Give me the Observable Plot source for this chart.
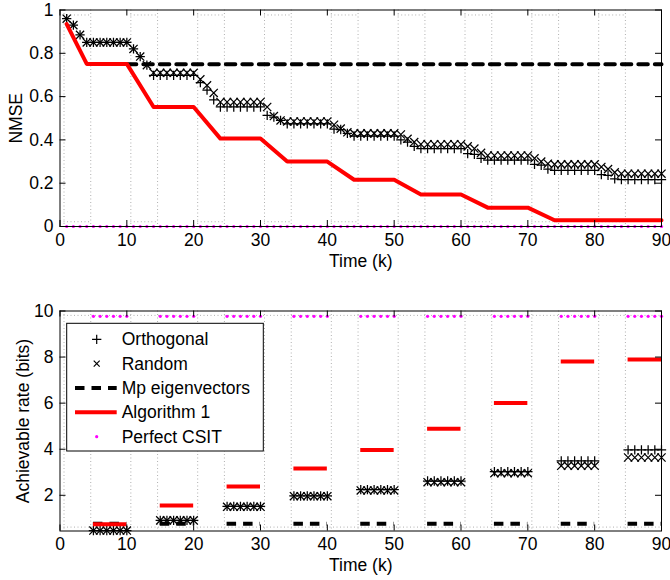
<!DOCTYPE html>
<html><head><meta charset="utf-8">
<script src="https://cdn.jsdelivr.net/npm/d3@7"></script>
<script src="https://cdn.jsdelivr.net/npm/@observablehq/plot@0.6"></script>
<style>
body{margin:0;background:#fff;}
#chart{width:670px;height:580px;position:relative;}
#chart svg{display:block;}
</style></head><body><div id="chart"></div>
<script>
// ---------- data: top panel (NMSE vs time) ----------
const timeK = d3.range(1, 91);
const orthogonalNMSE = [
  0.96, 0.93, 0.885,
  0.85, 0.85, 0.85, 0.85, 0.85, 0.85, 0.85,
  0.82, 0.785, 0.745,
  0.698, 0.698, 0.698, 0.698, 0.698, 0.698, 0.698,
  0.665, 0.63, 0.585,
  0.552, 0.552, 0.552, 0.552, 0.552, 0.552, 0.552,
  0.513, 0.505, 0.49,
  0.474, 0.474, 0.474, 0.474, 0.474, 0.474, 0.474,
  0.45, 0.448, 0.43,
  0.418, 0.418, 0.418, 0.418, 0.418, 0.418, 0.418,
  0.4, 0.39, 0.37,
  0.36, 0.36, 0.36, 0.36, 0.36, 0.36, 0.36,
  0.337, 0.333, 0.315,
  0.307, 0.307, 0.307, 0.307, 0.307, 0.307, 0.307,
  0.287, 0.283, 0.265,
  0.259, 0.259, 0.259, 0.259, 0.259, 0.259, 0.259,
  0.24, 0.236, 0.22,
  0.217, 0.217, 0.217, 0.217, 0.217, 0.217, 0.217
];
const randomNMSE = [
  0.96, 0.93, 0.885,
  0.85, 0.85, 0.85, 0.85, 0.85, 0.85, 0.85,
  0.82, 0.785, 0.745,
  0.71, 0.71, 0.71, 0.71, 0.71, 0.71, 0.71,
  0.68, 0.652, 0.617,
  0.575, 0.575, 0.575, 0.575, 0.575, 0.575, 0.575,
  0.552, 0.51, 0.49,
  0.485, 0.485, 0.485, 0.485, 0.485, 0.485, 0.485,
  0.47, 0.452, 0.435,
  0.43, 0.43, 0.43, 0.43, 0.43, 0.43, 0.43,
  0.425, 0.405, 0.39,
  0.38, 0.38, 0.38, 0.38, 0.38, 0.38, 0.38,
  0.37, 0.36, 0.34,
  0.328, 0.328, 0.328, 0.328, 0.328, 0.328, 0.328,
  0.315, 0.3, 0.29,
  0.287, 0.287, 0.287, 0.287, 0.287, 0.287, 0.287,
  0.275, 0.265, 0.25,
  0.244, 0.244, 0.244, 0.244, 0.244, 0.244, 0.244
];
const algTime = [1, 4, 10, 14, 20, 24, 30, 34, 40, 44, 50, 54, 60, 64, 70, 74, 90];
const algNMSE = [0.935, 0.751, 0.751, 0.552, 0.552, 0.406, 0.406, 0.300, 0.300, 0.216, 0.216, 0.148, 0.148, 0.087, 0.087, 0.029, 0.029];
const mpTime = [10, 90];
const mpNMSE = [0.75, 0.75];
const csitNMSE = 0;

// ---------- data: bottom panel (rate vs time) ----------
const blockStart = [5, 15, 25, 35, 45, 55, 65, 75, 85];
const blockEnd   = [10, 20, 30, 40, 50, 60, 70, 80, 90];
const rateOrthogonal = [0.47, 0.91, 1.52, 1.97, 2.25, 2.62, 3.03, 3.49, 3.97];
const rateRandom     = [0.47, 0.91, 1.50, 1.96, 2.21, 2.57, 2.96, 3.28, 3.64];
const rateMp         = [0.76, 0.76, 0.76, 0.76, 0.76, 0.76, 0.76, 0.76, 0.76];
const rateAlg        = [0.74, 1.56, 2.38, 3.16, 3.97, 4.89, 6.01, 7.81, 7.90];
const rateCSIT       = [9.77, 9.77, 9.77, 9.77, 9.77, 9.77, 9.77, 9.77, 9.77];

// ---------- ticks / labels ----------
const xTicks = [0, 10, 20, 30, 40, 50, 60, 70, 80, 90];
const nmseTicks = [0, 0.2, 0.4, 0.6, 0.8, 1];
const rateTicks = [2, 4, 6, 8, 10];
const gridStart = [0.6, 10.6, 20.6, 30.6, 40.6, 50.6, 60.6, 70.6, 80.6];
const gridEnd   = [4.6, 14.6, 24.6, 34.6, 44.6, 54.6, 64.6, 74.6, 84.6];
const legendLabels = ["Orthogonal", "Random", "Mp eigenvectors", "Algorithm 1", "Perfect CSIT"];

// ---------- style ----------
const FONT = "'Liberation Sans', Arial, Helvetica, sans-serif";
const FS = 17.5;
const RED = "#ff0000", MAG = "#ff00ff", GRID = "#9c9c9c";
const W = 670, ML = 59.5, MR = 9;
const TOP_T = 9.5, TOP_PH = 216.5;   // top panel frame
const BOT_T = 20.5, BOT_PH = 220;    // bottom panel frame
const dash = "9.5,7";
const PLUS_R = 3.1, TIMES_R = 3.8;
const gridX = gridStart.concat(gridEnd);

function frameMarks(xT, yT, yLabel, yLabelDx, ph) {
  const pw = W - ML - MR;
  return [
    Plot.frame({stroke: "black", strokeWidth: 1}),
    Plot.tickX(xT, {x: d => d, insetTop: ph - 6, stroke: "black"}),
    Plot.tickX(xT, {x: d => d, insetBottom: ph - 6, stroke: "black"}),
    Plot.tickY(yT, {y: d => d, insetLeft: pw - 6, stroke: "black"}),
    Plot.tickY(yT, {y: d => d, insetRight: pw - 6, stroke: "black"}),
    Plot.axisX(xT, {tickSize: 0, tickPadding: 7, fontSize: FS, label: null, tickFormat: d => String(d)}),
    Plot.axisY(yT, {tickSize: 0, tickPadding: 6.5, fontSize: FS, label: null, tickFormat: d => String(d)}),
    Plot.text(["Time (k)"], {frameAnchor: "bottom", dy: 34.5, textAnchor: "middle", lineAnchor: "middle", fontSize: FS, fill: "black"}),
    Plot.text([yLabel], {frameAnchor: "left", dx: yLabelDx, rotate: -90, textAnchor: "middle", lineAnchor: "middle", fontSize: FS, fill: "black"})
  ];
}

// ---------- top panel ----------
const topGapRules = [];
gridStart.forEach((s, i) => {
  topGapRules.push({x1: s, x2: gridEnd[i], y: 0.977});
  topGapRules.push({x1: s, x2: gridEnd[i], y: 0.022});
});

const topPlot = Plot.plot({
  width: W, height: 290,
  marginLeft: ML, marginRight: MR, marginTop: TOP_T, marginBottom: 290 - TOP_T - TOP_PH,
  x: {domain: [0, 90]},
  y: {domain: [0, 1]},
  style: {fontFamily: FONT, fontSize: FS + "px", color: "black", background: "white"},
  marks: [
    Plot.ruleX(gridX, {x: d => d, stroke: GRID, strokeWidth: 0.8, strokeDasharray: "1,2.5"}),
    Plot.ruleY(topGapRules, {y: "y", x1: "x1", x2: "x2", stroke: GRID, strokeWidth: 0.8, strokeDasharray: "1,2.5"}),
    Plot.dot(timeK, {x: d => d, y: (d, i) => orthogonalNMSE[i], symbol: "plus", r: PLUS_R, stroke: "black", strokeWidth: 1.25}),
    Plot.dot(timeK, {x: d => d, y: (d, i) => randomNMSE[i], symbol: "times", r: TIMES_R, stroke: "black", strokeWidth: 1.25}),
    Plot.line(mpTime, {x: d => d, y: (d, i) => mpNMSE[i], stroke: "black", strokeWidth: 4, strokeDasharray: dash}),
    Plot.line(algTime, {x: d => d, y: (d, i) => algNMSE[i], stroke: RED, strokeWidth: 4, strokeLinejoin: "round"}),
    Plot.dot(timeK, {x: d => d, y: () => csitNMSE, r: 1.6, fill: MAG, stroke: null}),
    ...frameMarks(xTicks, nmseTicks, "NMSE", -44, TOP_PH)
  ]
});

// ---------- bottom panel ----------
const blockPoints = [];
const blockSegs = [];
blockStart.forEach((s, i) => {
  for (let k = s; k <= blockEnd[i]; k++) blockPoints.push({k, orth: rateOrthogonal[i], rand: rateRandom[i], csit: rateCSIT[i]});
  blockSegs.push({x1: s, x2: blockEnd[i], mp: rateMp[i], alg: rateAlg[i]});
});

const botPlot = Plot.plot({
  width: W, height: 290,
  marginLeft: ML, marginRight: MR, marginTop: BOT_T, marginBottom: 290 - BOT_T - BOT_PH,
  x: {domain: [0, 90]},
  y: {domain: [0.45, 10]},
  style: {fontFamily: FONT, fontSize: FS + "px", color: "black", background: "white"},
  marks: [
    Plot.ruleX(gridX, {x: d => d, stroke: GRID, strokeWidth: 0.8, strokeDasharray: "1,2.5"}),
    Plot.ruleY([9.81, 0.62], {y: d => d, x1: 0.6, x2: 90, stroke: GRID, strokeWidth: 0.8, strokeDasharray: "1,2.5"}),
    Plot.dot(blockPoints, {x: "k", y: "orth", symbol: "plus", r: PLUS_R, stroke: "black", strokeWidth: 1.25}),
    Plot.dot(blockPoints, {x: "k", y: "rand", symbol: "times", r: TIMES_R, stroke: "black", strokeWidth: 1.25}),
    Plot.ruleY(blockSegs, {y: "mp", x1: "x1", x2: "x2", stroke: "black", strokeWidth: 4, strokeDasharray: dash}),
    Plot.ruleY(blockSegs, {y: "alg", x1: "x1", x2: "x2", stroke: RED, strokeWidth: 4}),
    Plot.dot(blockPoints, {x: "k", y: "csit", r: 1.6, fill: MAG, stroke: null}),
    ...frameMarks(xTicks, rateTicks, "Achievable rate (bits)", -37, BOT_PH)
  ]
});

const chart = document.getElementById("chart");
chart.appendChild(topPlot);
chart.appendChild(botPlot);

// ---------- legend (inside bottom panel, upper left) ----------
const leg = d3.select(botPlot).append("g")
  .attr("font-family", FONT).attr("font-size", FS).attr("text-anchor", "start");
leg.append("rect").attr("x", 66.7).attr("y", 33.3).attr("width", 196.6).attr("height", 127.7)
  .attr("fill", "white").attr("stroke", "black").attr("stroke-width", 1);
const rowY = i => 49.3 + i * 24.35;
leg.append("path").attr("transform", `translate(96.7,${rowY(0)})`)
  .attr("d", d3.symbol(d3.symbolPlus, PLUS_R * PLUS_R * Math.PI)()).attr("fill", "none").attr("stroke", "black").attr("stroke-width", 1.2);
leg.append("path").attr("transform", `translate(96.7,${rowY(1)})`)
  .attr("d", d3.symbol(d3.symbolTimes, TIMES_R * TIMES_R * Math.PI * 0.55)()).attr("fill", "none").attr("stroke", "black").attr("stroke-width", 1.2);
leg.append("line").attr("x1", 75).attr("x2", 116.7).attr("y1", rowY(2)).attr("y2", rowY(2))
  .attr("stroke", "black").attr("stroke-width", 4).attr("stroke-dasharray", dash);
leg.append("line").attr("x1", 75).attr("x2", 116.7).attr("y1", rowY(3)).attr("y2", rowY(3))
  .attr("stroke", RED).attr("stroke-width", 4);
leg.append("circle").attr("cx", 96.7).attr("cy", rowY(4)).attr("r", 1.6).attr("fill", MAG);
legendLabels.forEach((t, i) => {
  leg.append("text").attr("x", 121.7).attr("y", rowY(i)).attr("dy", "0.35em").attr("fill", "black").text(t);
});
</script>
</body></html>
